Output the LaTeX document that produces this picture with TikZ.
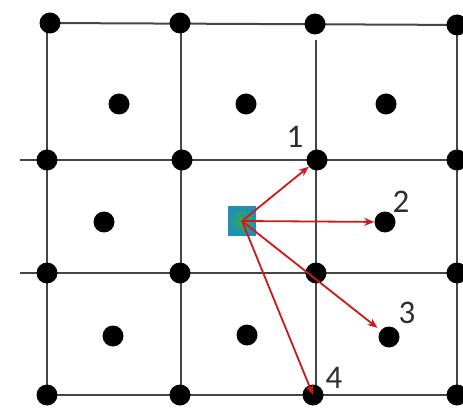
\documentclass[tikz,border=0pt]{standalone}
\usepackage{fontspec}
\setmainfont{Carlito}
\usetikzlibrary{arrows.meta}
\definecolor{gridgray}{HTML}{454545}
\definecolor{arrowred}{HTML}{D01818}
\definecolor{srcteal}{HTML}{1F8FB5}
\definecolor{srcgreen}{HTML}{3DA650}
\definecolor{labelgray}{HTML}{2E2E2E}
\begin{document}
\begin{tikzpicture}[x=1pt,y=-1pt,
  gridline/.style={draw=gridgray,line width=2pt},
  dot/.style={circle,fill=black,inner sep=0pt,minimum size=21pt},
  srcbox/.style={rectangle,inner sep=0pt,minimum size=28pt,
    inner color=srcgreen,outer color=srcteal},
  move/.style={draw=arrowred,line width=1.8pt,
    -{Stealth[length=10pt,width=8pt]}},
  num/.style={font=\fontsize{33}{33}\selectfont,text=labelgray,inner sep=0pt}]
\useasboundingbox (0,0) rectangle (463,414);
\clip (0,0) rectangle (463,414);
\fill[white] (0,0) rectangle (463,414);

% grid lines
\draw[gridline] (47,23) -- (470,25);
\draw[gridline] (20,160) -- (470,160);
\draw[gridline] (20,273) -- (470,273);
\draw[gridline] (47,395) -- (470,395);
\draw[gridline] (47,23) -- (47,395);
\draw[gridline] (181,23) -- (181,395);
\draw[gridline] (316,40) -- (316,395);
\draw[gridline] (457,25) -- (457,395);

% lattice corner points
\foreach \n/\px/\py in {a1/50/23, a2/180/23, a3/315/24, a4/457/25,
                         b1/47/160, b2/182/160, b4/457/160,
                         c1/47/273, c2/180/273, c3/316/273, c4/457/273,
                         e1/47/395, e2/180/395, e4/457/395}
  \node[dot] (\n) at (\px,\py) {};
\node[dot] (d1) at (317,160) {};
\node[dot] (d4) at (313,395) {};

% cell centre points
\foreach \n/\px/\py in {m1/119/104, m2/246/104, m3/386/104,
                         m4/104/222,
                         m7/113/336, m8/247/335}
  \node[dot] (\n) at (\px,\py) {};
\node[dot] (d2) at (385,222) {};
\node[dot] (d3) at (389,337) {};

% source cell
\node[srcbox] (sq) at (242,221) {};

% candidate moves
\draw[move] (sq.center) -- (d1);
\draw[move] (sq.center) -- (d2);
\draw[move,shorten >=4pt] (sq.center) -- (d3);
\draw[move] (sq.center) -- (d4.center);

% move labels
\node[num] (n1) at (295,137) {1};
\node[num] (n2) at (401,202) {2};
\node[num] (n3) at (407,313) {3};
\node[num] (n4) at (334,378) {4};
\end{tikzpicture}
\end{document}
